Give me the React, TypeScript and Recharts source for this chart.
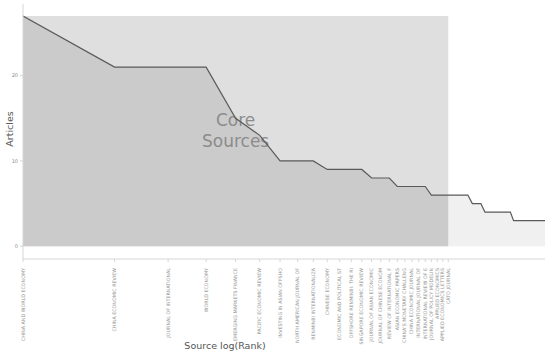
import {
  Area,
  ComposedChart,
  Line,
  ReferenceArea,
  XAxis,
  YAxis,
} from 'recharts'

// sources ranked by number of articles
const ranks = [
  1, 2, 3, 4, 5, 6, 7, 8, 9, 10, 11, 12, 13, 14, 15, 16, 17, 18, 19, 20, 21, 22, 23, 24, 25, 26,
  27, 28, 29, 30, 31, 32, 33, 34, 35, 36, 37, 38, 39, 40, 41, 42, 43, 44, 45, 46, 47, 48, 49, 50,
  51, 52,
]
const articles = [
  27, 21, 21, 21, 15, 13, 10, 10, 10, 9, 9, 9, 9, 8, 8, 8, 7, 7, 7, 7, 7, 6, 6, 6, 6, 6, 6, 6, 6,
  5, 5, 5, 4, 4, 4, 4, 4, 4, 4, 4, 3, 3, 3, 3, 3, 3, 3, 3, 3, 3, 3, 3,
]
// zone 1 sources (labels cut to 25 chars)
const coreSources = [
  'CHINA AND WORLD ECONOMY',
  'CHINA ECONOMIC REVIEW',
  'JOURNAL OF INTERNATIONAL',
  'WORLD ECONOMY',
  'EMERGING MARKETS FINANCE',
  'PACIFIC ECONOMIC REVIEW',
  'INVESTING IN ASIAN OFFSHO',
  'NORTH AMERICAN JOURNAL OF',
  'RENMINBI INTERNATIONALIZA',
  'CHINESE ECONOMY',
  'ECONOMIC AND POLITICAL ST',
  'OFFSHORE RENMINBI: THE RI',
  'SINGAPORE ECONOMIC REVIEW',
  'JOURNAL OF ASIAN ECONOMIC',
  'JOURNAL OF CHINESE ECONOM',
  'REVIEW OF INTERNATIONAL F',
  'ASIAN ECONOMIC PAPERS',
  "CHINA'S MONETARY CHALLENG",
  'CHINA ECONOMIC JOURNAL',
  'INTERNATIONAL JOURNAL OF',
  'INTERNATIONAL REVIEW OF E',
  'JOURNAL OF POLICY MODELIN',
  'APPLIED ECONOMICS',
  'APPLIED ECONOMICS LETTERS',
  'CATO JOURNAL',
]
const yTicks = [0, 10, 20]

const coreCount = coreSources.length
const maxArticles = Math.max(...articles)

const data = ranks.map((r, i) => ({
  x: Math.log(r),
  freq: articles[i],
  core: r <= coreCount ? articles[i] : null,
  rest: r >= coreCount ? articles[i] : null,
}))
const xTicks = ranks.slice(0, coreCount).map((r) => Math.log(r))

const font = '"DejaVu Sans", Verdana, sans-serif'

function SourceTick({ x, y, payload }: any) {
  const name = coreSources[Math.round(Math.exp(payload.value)) - 1] ?? ''
  return (
    <text
      x={x}
      y={y + 4}
      transform={`rotate(-90 ${x} ${y + 4})`}
      textAnchor="end"
      dominantBaseline="central"
      fontSize={4.8}
      fill="#939393"
      fontFamily={font}
    >
      {name}
    </text>
  )
}

function CoreLabel({ viewBox }: any) {
  const cx = viewBox.x + viewBox.width / 2
  const cy = viewBox.y + viewBox.height / 2
  return (
    <text x={cx} textAnchor="middle" fontSize={17} fill="#8c8c8c" fontFamily={font}>
      <tspan x={cx} y={cy - 5}>Core</tspan>
      <tspan x={cx} y={cy + 16}>Sources</tspan>
    </text>
  )
}

export default function App() {
  return (
    <div style={{ position: 'absolute', left: 0, top: 0, width: 550, height: 353, background: '#fff' }}>
      <ComposedChart
        width={550}
        height={353}
        data={data}
        margin={{ top: 4, right: 5, bottom: 0, left: 5 }}
      >
        <ReferenceArea
          x1={0}
          x2={Math.log(coreCount)}
          y1={0}
          y2={maxArticles}
          fill="#dfdfdf"
          fillOpacity={1}
          stroke="none"
          zIndex={-50}
        />
        <XAxis
          type="number"
          dataKey="x"
          domain={[0, Math.log(ranks[ranks.length - 1])]}
          ticks={xTicks}
          interval={0}
          height={94}
          tick={<SourceTick />}
          tickLine={{ stroke: '#d6d6d6' }}
          tickSize={3}
          axisLine={{ stroke: '#d6d6d6' }}
          allowDataOverflow
          label={{
            content: () => (
              <text x={225} y={349} textAnchor="middle" fontSize={9.5} fill="#555" fontFamily={font}>
                Source log(Rank)
              </text>
            ),
          }}
        />
        <YAxis
          type="number"
          domain={[-1.5, 28.4]}
          ticks={yTicks}
          width={18}
          tick={{ fontSize: 5, fill: '#8a8a8a', fontFamily: font }}
          tickLine={{ stroke: '#d6d6d6' }}
          tickSize={3}
          axisLine={{ stroke: '#d6d6d6' }}
          allowDataOverflow
          label={{
            content: () => (
              <text
                x={9}
                y={129}
                transform="rotate(-90 9 129)"
                textAnchor="middle"
                dominantBaseline="central"
                fontSize={9.5}
                fill="#555"
                fontFamily={font}
              >
                Articles
              </text>
            ),
          }}
        />
        <Area
          type="linear"
          dataKey="rest"
          baseValue={0}
          stroke="none"
          fill="#f0f0f0"
          fillOpacity={1}
          isAnimationActive={false}
        />
        <Area
          type="linear"
          dataKey="core"
          baseValue={0}
          stroke="none"
          fill="#cbcbcb"
          fillOpacity={1}
          isAnimationActive={false}
        />
        <ReferenceArea
          x1={0}
          x2={Math.log(coreCount)}
          y1={0}
          y2={maxArticles}
          fill="none"
          fillOpacity={0}
          stroke="none"
          zIndex={350}
          label={<CoreLabel />}
        />
        <Line
          type="linear"
          dataKey="freq"
          stroke="#5a5a5a"
          strokeWidth={1.2}
          dot={false}
          isAnimationActive={false}
        />
      </ComposedChart>
    </div>
  )
}
